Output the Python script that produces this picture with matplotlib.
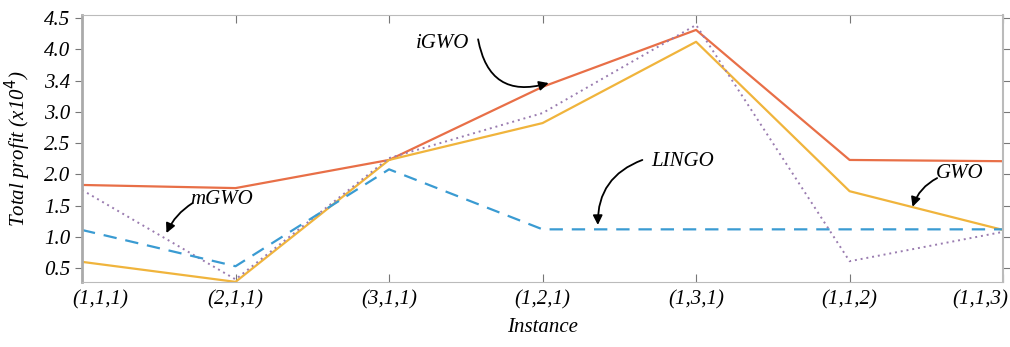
import matplotlib.pyplot as plt
import numpy as np

instances = ['(1,1,1)', '(2,1,1)', '(3,1,1)', '(1,2,1)', '(1,3,1)', '(1,1,2)', '(1,1,3)']
igwo = [1.83, 1.78, 2.23, 3.40, 4.31, 2.23, 2.21]
gwo = [0.60, 0.28, 2.23, 2.82, 4.12, 1.73, 1.11]
mgwo = [1.75, 0.32, 2.26, 2.98, 4.39, 0.61, 1.08]
lingo = [1.11, 0.53, 2.08, 1.12, 1.12, 1.12, 1.12]

ytick_vals = [0.5, 1.0, 1.5, 2.0, 2.5, 3.0, 3.5, 4.0, 4.5]
ytick_labels = ['0.5', '1.0', '1.5', '2.0', '2.5', '3.0', '3.4', '4.0', '4.5']

plt.rcParams['font.family'] = ['Liberation Serif', 'DejaVu Serif']

fig = plt.figure(figsize=(10.1, 3.47), dpi=100)
ax = fig.add_axes([0.0812, 0.187, 0.912, 0.770])

x = np.arange(len(instances))
ax.plot(x, igwo, color='#e86f47', lw=1.6)
ax.plot(x, gwo, color='#f0b43c', lw=1.6)
ax.plot(x, mgwo, color='#9a7cb0', lw=1.4, ls=(0, (1, 2)))
ax.plot(x, lingo, color='#3a9bd2', lw=1.6, ls=(0, (6, 4)))

ax.set_xlim(0, 6)
ax.set_ylim(0.276, 4.55)
ax.set_xticks(x)
# first and last labels sit off-centre in the original, draw them by hand
ax.set_xticklabels([''] + instances[1:-1] + [''], fontsize=15, style='italic')
ax.annotate(instances[0], xy=(x[0], 0), xycoords=('data', 'axes fraction'),
            xytext=(-7, -6), textcoords='offset points', ha='left', va='top',
            fontsize=15, style='italic')
ax.annotate(instances[-1], xy=(x[-1], 0), xycoords=('data', 'axes fraction'),
            xytext=(4, -6), textcoords='offset points', ha='right', va='top',
            fontsize=15, style='italic')
ax.set_yticks(ytick_vals)
ax.set_yticklabels(ytick_labels, fontsize=15, style='italic')

ax.tick_params(axis='y', direction='out', length=5, color='#777777', right=True)
ax.tick_params(axis='x', direction='in', length=6, color='#777777', top=True, pad=6)
for s in ax.spines.values():
    s.set_color('#bbbbbb')
ax.spines['left'].set_linewidth(2)
ax.spines['left'].set_color('#aaaaaa')
ax.spines['right'].set_linewidth(1.5)

ax.set_ylabel('Total profit (x10$^4$)', fontsize=15, style='italic', labelpad=8)
ax.set_xlabel('Instance', fontsize=15, style='italic', labelpad=6)

arrow = dict(arrowstyle='-|>', color='black', lw=1.3, mutation_scale=14, shrinkA=0, shrinkB=0)

ax.text(2.35, 4.10, 'iGWO', fontsize=15, style='italic', ha='center', va='center')
ax.annotate('', xy=(3.04, 3.46), xytext=(2.58, 4.16),
            arrowprops=dict(arrow, connectionstyle='arc3,rad=0.55'))

ax.text(0.91, 1.59, 'mGWO', fontsize=15, style='italic', ha='center', va='center')
ax.annotate('', xy=(0.55, 1.06), xytext=(0.72, 1.54),
            arrowprops=dict(arrow, connectionstyle='arc3,rad=0.15'))

ax.text(3.91, 2.21, 'LINGO', fontsize=15, style='italic', ha='center', va='center')
ax.annotate('', xy=(3.36, 1.19), xytext=(3.65, 2.23),
            arrowprops=dict(arrow, connectionstyle='arc3,rad=0.35'))

ax.text(5.72, 2.02, 'GWO', fontsize=15, style='italic', ha='center', va='center')
ax.annotate('', xy=(5.41, 1.48), xytext=(5.57, 1.94),
            arrowprops=dict(arrow, connectionstyle='arc3,rad=0.2'))

fig.savefig('out.png', dpi=100)
